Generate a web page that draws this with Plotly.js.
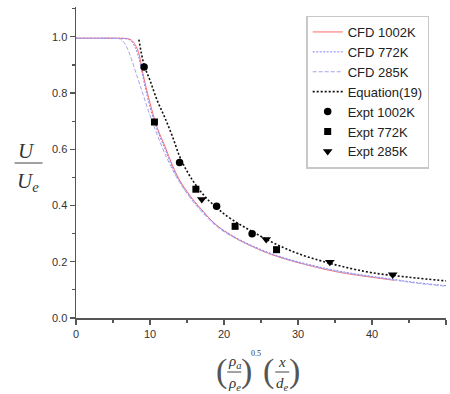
<!DOCTYPE html>
<html>
<head>
<meta charset="utf-8">
<script src="https://cdn.plot.ly/plotly-3.0.1.min.js"></script>
<style>html,body{margin:0;padding:0;background:#fff;}#chart{width:450px;height:394px;}</style>
</head>
<body>
<div id="chart"></div>
<script>
// CFD 1002K
const cfd1002X = [0, 3, 5, 7, 7.5, 8, 8.5, 9, 10, 11, 12, 13, 14, 15, 16, 17, 18, 19, 20, 21, 22, 24, 26, 28, 30, 34, 37, 40, 43];
const cfd1002Y = [0.995, 0.995, 0.995, 0.993, 0.988, 0.972, 0.94, 0.875, 0.765, 0.675, 0.612, 0.545, 0.49, 0.45, 0.415, 0.385, 0.355, 0.33, 0.31, 0.293, 0.278, 0.252, 0.23, 0.212, 0.197, 0.171, 0.156, 0.145, 0.134];
// CFD 772K
const cfd772X = [0, 3, 5, 7, 7.5, 8, 8.5, 9, 10, 11, 12, 13, 14, 15, 16, 17, 18, 19, 20, 22, 24, 26, 28, 30, 34, 37, 40, 43, 46, 50];
const cfd772Y = [0.995, 0.995, 0.995, 0.992, 0.984, 0.962, 0.925, 0.862, 0.75, 0.668, 0.603, 0.538, 0.486, 0.446, 0.412, 0.382, 0.354, 0.329, 0.311, 0.28, 0.255, 0.233, 0.215, 0.2, 0.175, 0.16, 0.148, 0.137, 0.126, 0.115];
// CFD 285K
const cfd285X = [0, 3, 5, 6, 6.5, 7, 7.5, 8, 8.5, 9, 10, 11, 12, 13, 14, 15, 16, 17, 18, 19, 20, 22, 24, 26, 28, 30, 34, 37, 40, 43, 46, 50];
const cfd285Y = [0.995, 0.995, 0.995, 0.992, 0.98, 0.955, 0.92, 0.88, 0.84, 0.8, 0.72, 0.65, 0.585, 0.53, 0.482, 0.443, 0.408, 0.378, 0.35, 0.326, 0.307, 0.277, 0.252, 0.23, 0.212, 0.197, 0.172, 0.158, 0.146, 0.135, 0.124, 0.113];
// Equation (19)
const eqX = [8.5, 9.2, 10, 11, 12, 13, 14, 15, 16, 17, 18, 19, 20, 22, 24, 26, 28, 30, 33, 36, 40, 45, 50];
const eqY = [0.99, 0.9, 0.845, 0.772, 0.713, 0.648, 0.575, 0.522, 0.48, 0.445, 0.416, 0.394, 0.37, 0.335, 0.305, 0.276, 0.251, 0.229, 0.204, 0.183, 0.161, 0.145, 0.132];
// Experiments
const exp1002X = [9.2, 14.0, 19.0, 23.8];
const exp1002Y = [0.893, 0.553, 0.397, 0.30];
const exp772X = [10.6, 16.2, 21.5, 27.1];
const exp772Y = [0.697, 0.458, 0.326, 0.243];
const exp285X = [17.0, 25.7, 34.3, 42.8];
const exp285Y = [0.422, 0.28, 0.199, 0.154];

const xTicks = [0, 10, 20, 30, 40, 50];
const yTicks = [0.0, 0.2, 0.4, 0.6, 0.8, 1.0];

const traces = [
  {x: cfd1002X, y: cfd1002Y, name: 'CFD 1002K', mode: 'lines', line: {color: '#ff6a6a', width: 1, shape: 'spline'}},
  {x: cfd772X, y: cfd772Y, name: 'CFD 772K', mode: 'lines', line: {color: '#7f7fff', width: 1, dash: '2px,1.5px', shape: 'spline'}},
  {x: cfd285X, y: cfd285Y, name: 'CFD 285K', mode: 'lines', line: {color: '#a4a4e8', width: 1, dash: '4px,2px', shape: 'spline'}},
  {x: eqX, y: eqY, name: 'Equation(19)', mode: 'lines', line: {color: '#111', width: 1.6, dash: '2px,2px', shape: 'spline'}},
  {x: exp1002X, y: exp1002Y, name: 'Expt 1002K', mode: 'markers', marker: {symbol: 'circle', size: 7.5, color: '#000'}},
  {x: exp772X, y: exp772Y, name: 'Expt 772K', mode: 'markers', marker: {symbol: 'square', size: 7, color: '#000'}},
  {x: exp285X, y: exp285Y, name: 'Expt 285K', mode: 'markers', marker: {symbol: 'triangle-down', size: 8.5, color: '#000'}}
];

const L = 75.5, R = 446, T = 7, B = 318;
function px(p) { return (p - L) / (R - L); }
function py(p) { return (B - p) / (B - T); }

const serif = 'Liberation Serif, Times New Roman, serif';
const ann = [];
const shapes = [];
function txt(t, x, y, size, extra) {
  ann.push(Object.assign({text: t, x: px(x), y: py(y), xref: 'paper', yref: 'paper', showarrow: false,
    xanchor: 'center', yanchor: 'middle', font: {family: serif, size: size, color: '#333'}}, extra || {}));
}
function bar(x0, x1, y) {
  shapes.push({type: 'line', xref: 'paper', yref: 'paper', x0: px(x0), x1: px(x1), y0: py(y), y1: py(y), line: {color: '#444', width: 1}});
}
// y title: U / U_e
txt('<i>U</i>', 26, 151, 21);
bar(14, 42, 163);
txt('<i>U<sub>e</sub></i>', 27, 182, 21);
// x title
txt('(', 221, 371, 34, {font: {family: serif, size: 34, color: '#555'}});
txt('<i>ρ<sub>a</sub></i>', 234, 362, 15);
bar(227, 241, 372);
txt('<i>ρ<sub>e</sub></i>', 234, 384, 15);
txt(')', 246, 371, 34, {font: {family: serif, size: 34, color: '#555'}});
txt('0.5', 256, 353, 8);
txt('(', 268, 371, 34, {font: {family: serif, size: 34, color: '#555'}});
txt('<i>x</i>', 282, 362, 15);
bar(275, 289, 372);
txt('<i>d<sub>e</sub></i>', 282, 384, 15);
txt(')', 294, 371, 34, {font: {family: serif, size: 34, color: '#555'}});

const layout = {
  width: 450, height: 394,
  margin: {l: 75.5, r: 4, t: 7, b: 76, pad: 0},
  paper_bgcolor: '#fff', plot_bgcolor: '#fff',
  showlegend: true,
  font: {family: 'Liberation Sans, Arial, sans-serif', size: 11, color: '#333'},
  xaxis: {
    range: [0, 50], tickvals: xTicks, ticktext: xTicks.map(String),
    showgrid: false, zeroline: false, showline: true, linecolor: '#555', linewidth: 1.5,
    ticks: 'outside', ticklen: 5, tickwidth: 1.2, tickcolor: '#555',
    minor: {dtick: 5, ticks: 'outside', ticklen: 3, tickwidth: 1.2, tickcolor: '#555'},
    tickfont: {size: 11, color: '#333'}, fixedrange: true
  },
  yaxis: {
    range: [0, 1.106], tickvals: yTicks, ticktext: yTicks.map(v => v.toFixed(1)),
    showgrid: false, zeroline: false, showline: true, linecolor: '#555', linewidth: 1.5,
    ticks: 'outside', ticklen: 5, tickwidth: 1.2, tickcolor: '#555',
    minor: {dtick: 0.1, ticks: 'outside', ticklen: 3, tickwidth: 1.2, tickcolor: '#555'},
    tickfont: {size: 11, color: '#333'}, fixedrange: true
  },
  legend: {
    x: px(306), y: py(15.5), xanchor: 'left', yanchor: 'top',
    bgcolor: '#fff', bordercolor: '#c8c8c8', borderwidth: 1.5,
    font: {family: 'Liberation Sans, Arial, sans-serif', size: 13, color: '#222'},
    itemwidth: 30, tracegroupgap: 0
  },
  annotations: ann,
  shapes: shapes
};

Plotly.newPlot('chart', traces, layout, {staticPlot: true, displayModeBar: false});
</script>
</body>
</html>
